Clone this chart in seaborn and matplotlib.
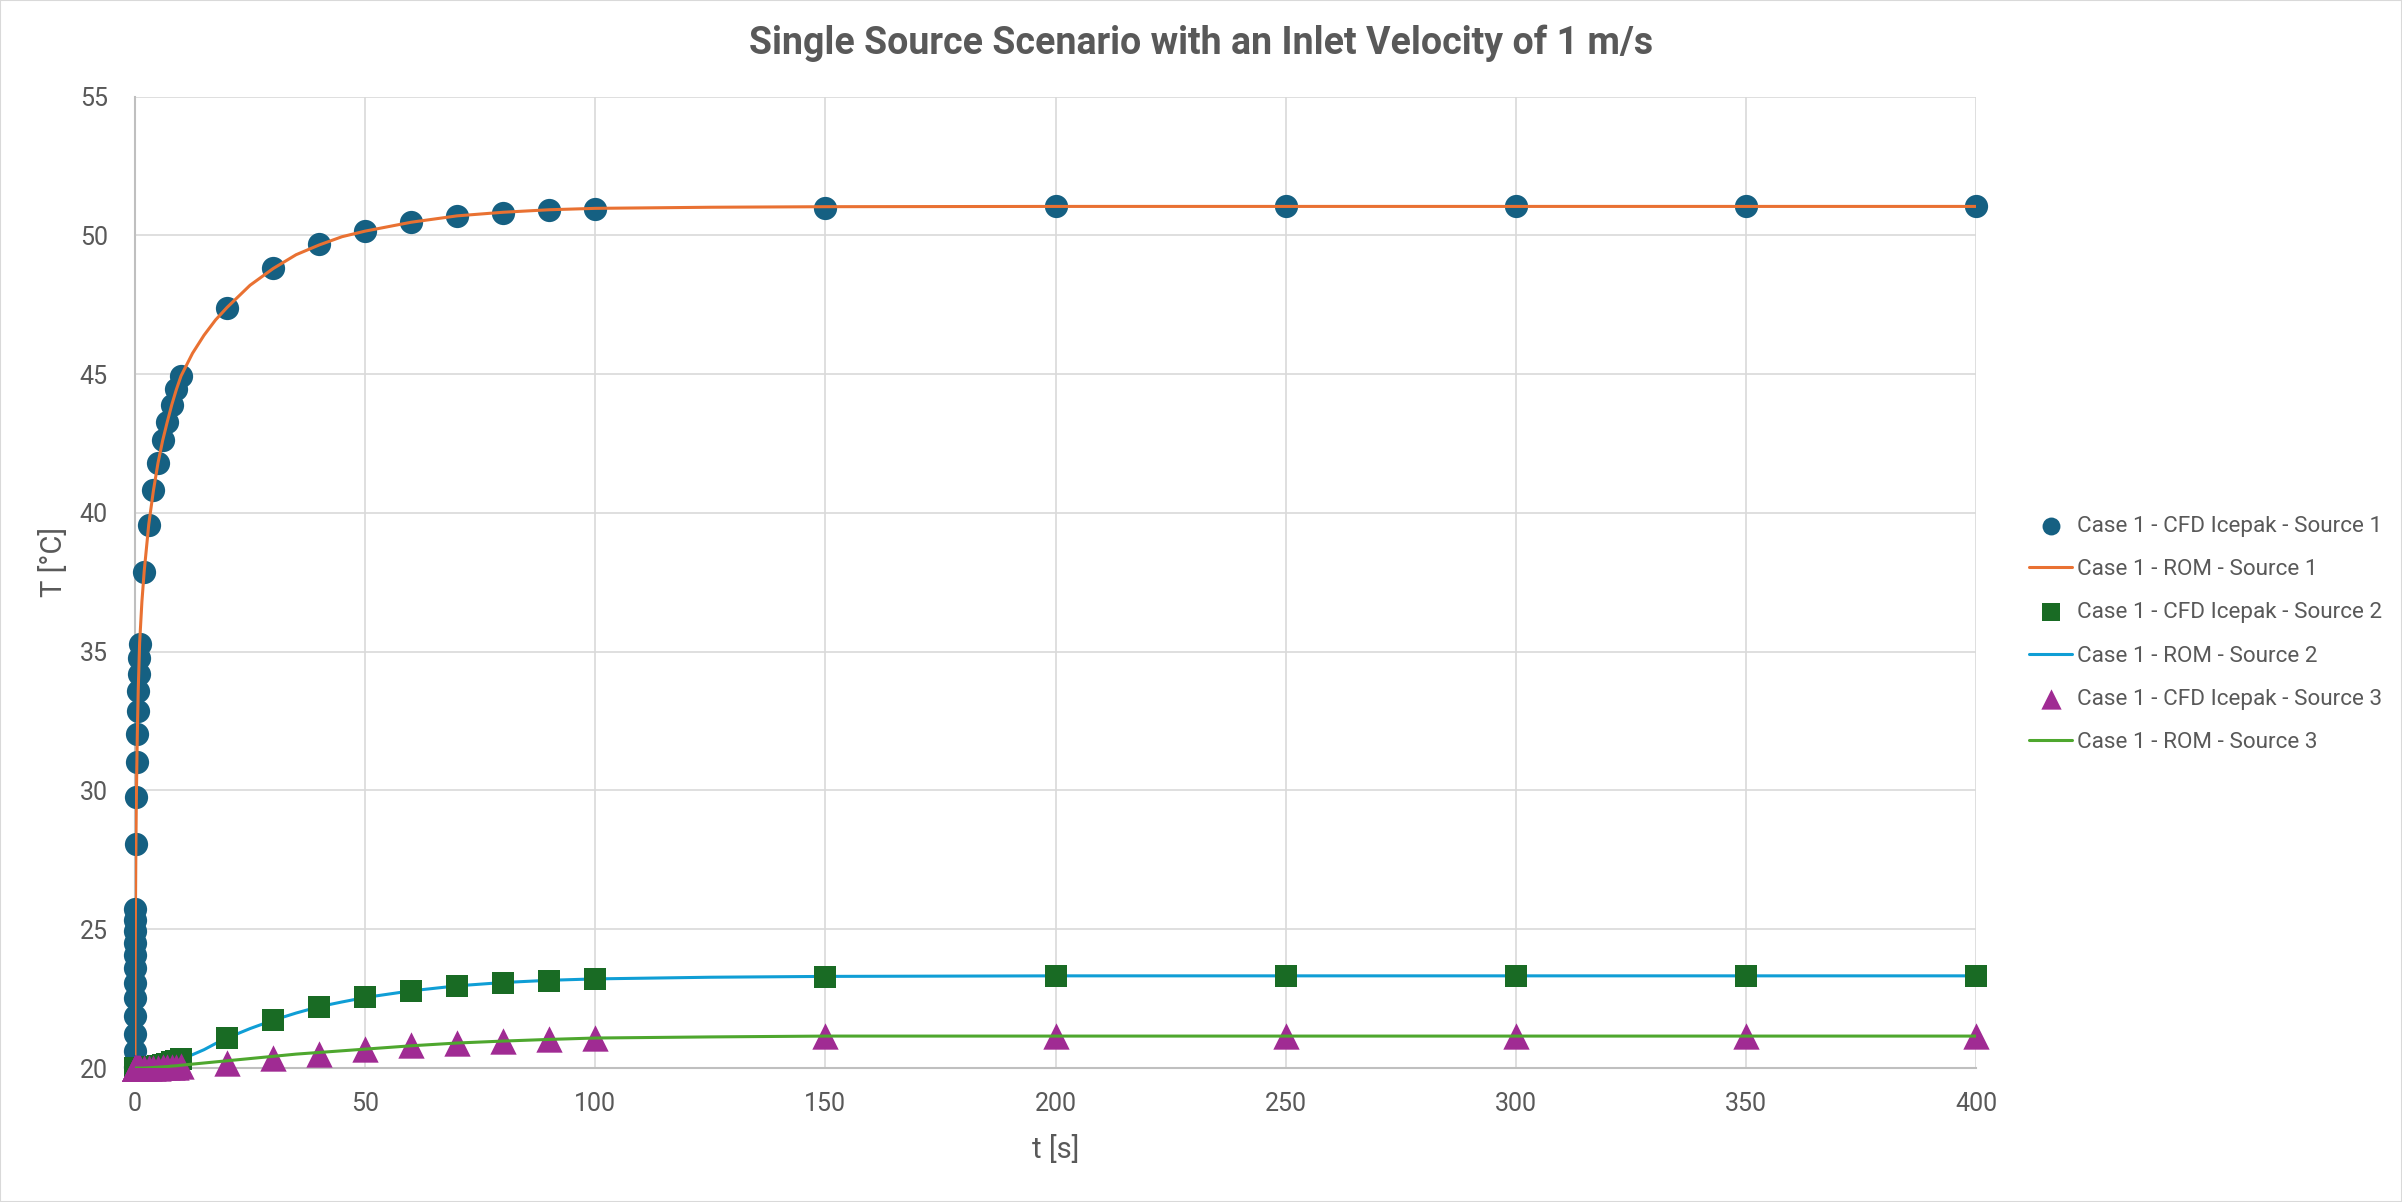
import numpy as np
import pandas as pd
import matplotlib
matplotlib.use('Agg')
import matplotlib.pyplot as plt
from matplotlib.patches import Rectangle
import seaborn as sns

# CFD (Icepak) sample times [s]
t_cfd = [0, 0.005, 0.01, 0.02, 0.03, 0.04, 0.05, 0.06, 0.07, 0.08, 0.09, 0.1,
         0.2, 0.3, 0.4, 0.5, 0.6, 0.7, 0.8, 0.9, 1,
         2, 3, 4, 5, 6, 7, 8, 9, 10,
         20, 30, 40, 50, 60, 70, 80, 90, 100,
         150, 200, 250, 300, 350, 400]

cfd_src1 = [20.05, 20.6, 21.24, 21.87, 22.53, 23.07, 23.59, 24.07, 24.52, 24.94, 25.34, 25.72,
            28.07, 29.78, 31.04, 32.05, 32.86, 33.58, 34.2, 34.76, 35.26,
            37.88, 39.56, 40.82, 41.8, 42.64, 43.27, 43.9, 44.45, 44.93,
            47.39, 48.83, 49.67, 50.17, 50.48, 50.71, 50.81, 50.92, 50.96,
            51.0, 51.04, 51.04, 51.04, 51.04, 51.04]

cfd_src2 = [20.0, 20.0, 20.0, 20.0, 20.0, 20.0, 20.0, 20.0, 20.0, 20.0, 20.0, 20.0,
            20.0, 20.0, 20.0, 20.0, 20.0, 20.0, 20.0, 20.0, 20.0,
            20.01, 20.03, 20.05, 20.08, 20.11, 20.15, 20.2, 20.25, 20.32,
            21.08, 21.72, 22.21, 22.54, 22.78, 22.97, 23.08, 23.15, 23.22,
            23.29, 23.31, 23.32, 23.32, 23.32, 23.32]

cfd_src3 = [20.0, 20.0, 20.0, 20.0, 20.0, 20.0, 20.0, 20.0, 20.0, 20.0, 20.0, 20.0,
            20.0, 20.0, 20.0, 20.0, 20.0, 20.0, 20.0, 20.0, 20.0,
            20.0, 20.0, 20.01, 20.01, 20.02, 20.03, 20.04, 20.05, 20.06,
            20.17, 20.35, 20.52, 20.67, 20.82, 20.89, 20.97, 21.04, 21.08,
            21.15, 21.15, 21.15, 21.15, 21.15, 21.15]

# ROM curves
t_rom = [0, 0.01, 0.02, 0.05, 0.1, 0.2, 0.3, 0.5, 0.7, 1,
         1.5, 2, 3, 4, 5, 6, 7, 8, 9, 10,
         12.5, 15, 17.5, 20, 25, 30, 35, 40, 45, 50,
         60, 70, 80, 90, 100, 125, 150, 200, 250, 300, 350, 400]

rom_src1 = [20.0, 21.8, 22.5, 24.0, 25.7, 28.1, 29.8, 32.0, 33.6, 35.3,
            36.8, 37.9, 39.6, 40.8, 41.8, 42.6, 43.27, 43.9, 44.45, 44.93,
            45.75, 46.4, 46.95, 47.4, 48.2, 48.8, 49.3, 49.65, 49.95, 50.15,
            50.47, 50.7, 50.83, 50.92, 50.97, 51.01, 51.03, 51.04, 51.04, 51.04, 51.04, 51.04]

rom_src2 = [20.0, 20.0, 20.0, 20.0, 20.0, 20.0, 20.0, 20.0, 20.0, 20.0,
            20.0, 20.01, 20.03, 20.05, 20.08, 20.11, 20.15, 20.2, 20.25, 20.32,
            20.48, 20.66, 20.88, 21.08, 21.42, 21.72, 21.98, 22.21, 22.38, 22.54,
            22.78, 22.96, 23.08, 23.16, 23.21, 23.27, 23.3, 23.32, 23.32, 23.32, 23.32, 23.32]

rom_src3 = [20.0, 20.0, 20.0, 20.0, 20.0, 20.0, 20.0, 20.0, 20.0, 20.0,
            20.0, 20.0, 20.01, 20.02, 20.03, 20.04, 20.05, 20.07, 20.08, 20.1,
            20.14, 20.18, 20.22, 20.26, 20.34, 20.42, 20.5, 20.56, 20.62, 20.68,
            20.8, 20.9, 20.97, 21.03, 21.08, 21.12, 21.15, 21.15, 21.15, 21.15, 21.15, 21.15]

labels = ['Case 1 - CFD Icepak - Source 1', 'Case 1 - ROM - Source 1',
          'Case 1 - CFD Icepak - Source 2', 'Case 1 - ROM - Source 2',
          'Case 1 - CFD Icepak - Source 3', 'Case 1 - ROM - Source 3']

sns.set_theme(style='white')
plt.rcParams['font.family'] = ['Roboto', 'DejaVu Sans']
txt_col = '#595959'

fig = plt.figure(figsize=(24.02, 12.02), dpi=100)
ax = fig.add_axes([135/2402, 1 - 1068/1202, (1976-135)/2402, (1068-96.5)/1202])

sns.scatterplot(x=t_cfd, y=cfd_src1, ax=ax, marker='o', s=280, color='#156082',
                linewidth=0, label=labels[0], zorder=3, clip_on=False)
sns.lineplot(x=t_rom, y=rom_src1, ax=ax, color='#E97132', lw=2.2,
             sort=False, estimator=None, label=labels[1], zorder=4)
sns.scatterplot(x=t_cfd, y=cfd_src2, ax=ax, marker='s', s=270, color='#196B24',
                linewidth=0, label=labels[2], zorder=5, clip_on=False)
sns.lineplot(x=t_rom, y=rom_src2, ax=ax, color='#0F9ED5', lw=2.2,
             sort=False, estimator=None, label=labels[3], zorder=4)
sns.scatterplot(x=t_cfd, y=cfd_src3, ax=ax, marker='^', s=360, color='#A02B93',
                linewidth=0, label=labels[4], zorder=5, clip_on=False)
sns.lineplot(x=t_rom, y=rom_src3, ax=ax, color='#4EA72E', lw=2.2,
             sort=False, estimator=None, label=labels[5], zorder=6)

ax.set_xlim(0, 400)
ax.set_ylim(20, 55)
ax.set_xticks(np.arange(0, 401, 50))
ax.set_yticks(np.arange(20, 56, 5))
ax.grid(True, color='#D9D9D9', lw=1.2, zorder=0)
ax.set_axisbelow(True)
for side in ['top', 'right']:
    ax.spines[side].set_visible(False)
for side in ['left', 'bottom']:
    ax.spines[side].set_color('#BFBFBF')
    ax.spines[side].set_linewidth(1.5)

ax.tick_params(axis='x', length=0, pad=17, labelsize=18, labelcolor=txt_col)
ax.tick_params(axis='y', length=0, pad=19.5, labelsize=18, labelcolor=txt_col)

ax.set_xlabel('t [s]', fontsize=21, color=txt_col)
ax.set_ylabel('T [°C]', fontsize=21, color=txt_col)
ax.xaxis.set_label_coords(0.5, -0.069)
ax.yaxis.set_label_coords(-0.0364, 0.521)

fig.suptitle('Single Source Scenario with an Inlet Velocity of 1 m/s', x=0.5, y=1 - 43/1202,
             va='center', fontsize=27, fontweight='bold', color=txt_col)

leg = ax.legend(loc='center left', bbox_to_anchor=(2029/2402, 1 - 634.5/1202),
                bbox_transform=fig.transFigure, frameon=False, fontsize=16.2,
                handlelength=1.92, handletextpad=0.2, labelspacing=0.99,
                borderpad=0, borderaxespad=0, markerscale=0.77)
for t in leg.get_texts():
    t.set_color(txt_col)

fig.patches.append(Rectangle((0, 0), 1, 1, transform=fig.transFigure, fill=False,
                             edgecolor='#D9D9D9', lw=1.5))

fig.savefig('out.png', dpi=100)
